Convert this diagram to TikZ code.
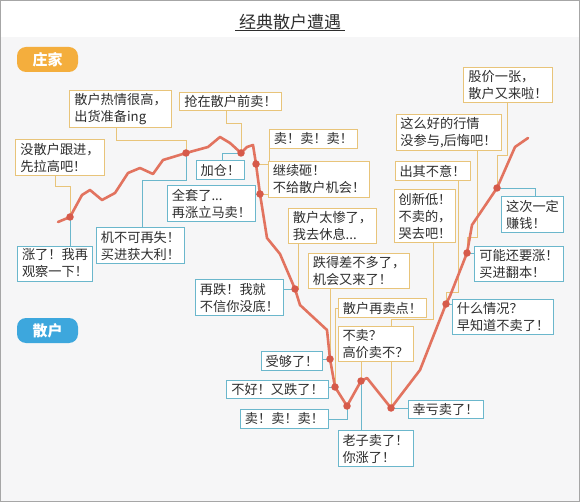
\documentclass[tikz,border=0pt]{standalone}
\usepackage{fontspec}
\setmainfont{Noto Sans CJK SC}
\usetikzlibrary{positioning}
\definecolor{zhuang}{HTML}{F4AE3D}
\definecolor{sanhu}{HTML}{3DA7DD}
\definecolor{zborder}{HTML}{E8C47A}
\definecolor{sborder}{HTML}{6BB7CC}
\definecolor{curvecol}{HTML}{E2735F}
\definecolor{dotcol}{HTML}{D65A4A}
\definecolor{txt}{HTML}{2E2E2E}
\definecolor{bgcol}{HTML}{F6F6F7}
\pgfdeclarelayer{back}
\pgfsetlayers{back,main}
\tikzset{
  msg/.style={draw, fill=white, line width=0.9pt, align=left, inner xsep=4.5pt, inner ysep=3pt, text=txt, font=\fontsize{13.2}{17}\selectfont},
  zbox/.style={msg, draw=zborder},
  sbox/.style={msg, draw=sborder},
  zline/.style={zborder, line width=0.9pt},
  sline/.style={sborder, line width=0.9pt},
  pill/.style={rounded corners=9pt, minimum width=61pt, minimum height=25pt, text=white, font=\fontsize{15}{15}\selectfont\bfseries},
  curve/.style={curvecol, line width=2.6pt, line join=round, line cap=round},
  reddot/.style={circle, fill=dotcol, inner sep=0pt, minimum size=7.5pt},
}

\begin{document}
\begin{tikzpicture}[x=1pt, y=-1pt]
	\useasboundingbox (0,0) rectangle (580,502);

	% points on the price curve
	\foreach \n/\p in {1/{70,217}, 2/{186,153}, 3/{241,153}, 4/{256,164}, 5/{260,194}, 6/{295,289}, 7/{330,359}, 8/{335,387}, 9/{347,406}, 10/{361,381}, 11/{391,408}, 12/{446,304}, 13/{467,253}, 14/{497,188}}
		\coordinate (D\n) at (\p);

	\node (T) at (290,22) {\fontsize{17}{17}\selectfont\color{txt}经典散户遭遇};
	\node[pill, fill=zhuang] (ZJ) at (47.5,59.5) {庄家};
	\node[pill, fill=sanhu] (SH) at (47.5,330.5) {散户};

	% 庄家
	\node[zbox] (Z1) at (60,157.5) {没散户跟进，\\先拉高吧！};
	\node[zbox] (Z2) at (120.5,109) {散户热情很高，\\出货准备ing};
	\node[zbox] (Z3) at (230.5,101.5) {抢在散户前卖！};
	\node[zbox] (Z4) at (313.5,139) {卖！卖！卖！};
	\node[zbox] (Z5) at (319,179.5) {继续砸！\\不给散户机会！};
	\node[zbox] (Z6) at (332.5,226) {散户太惨了，\\我去休息...};
	\node[zbox] (Z7) at (359,271) {跌得差不多了，\\机会又来了！};
	\node[zbox] (Z8) at (382.5,308) {散户再卖点！};
	\node[zbox] (Z9) at (375.5,344) {不卖？\\高价卖不？};
	\node[zbox] (Z10) at (425,216) {创新低！\\不卖的，\\哭去吧！};
	\node[zbox] (Z11) at (432.5,171) {出其不意！};
	\node[zbox] (Z12) at (448.5,132.5) {这么好的行情\\没参与,后悔吧！};
	\node[zbox] (Z13) at (508,85) {股价一张，\\散户又来啦！};

	% 散户
	\node[sbox] (S1) at (55,263.5) {涨了！我再\\观察一下！};
	\node[sbox] (S2) at (140.5,245.5) {机不可再失！\\买进获大利！};
	\node[sbox] (S3) at (220.5,170) {加仓！};
	\node[sbox] (S4) at (211.5,203.5) {全套了...\\再涨立马卖！};
	\node[sbox] (S5) at (239.5,297.5) {再跌！我就\\不信你没底！};
	\node[sbox] (S6) at (292,361) {受够了！};
	\node[sbox] (S7) at (277.5,389.5) {不好！又跌了！};
	\node[sbox] (S8) at (284.5,419) {卖！卖！卖！};
	\node[sbox] (S9) at (375.5,448.5) {老子卖了！\\你涨了！};
	\node[sbox] (S10) at (445.5,409.5) {幸亏卖了！};
	\node[sbox] (S11) at (503,317) {什么情况？\\早知道不卖了！};
	\node[sbox] (S12) at (519,264) {可能还要涨！\\买进翻本！};
	\node[sbox] (S13) at (532.5,214.5) {这次一定\\赚钱！};

	\begin{pgfonlayer}{back}
	\fill[bgcol] (0,37) rectangle (580,502);
	\draw[gray!70, line width=1pt] (0.5,0.5) rectangle (579.5,501.5);
	\draw[txt, line width=0.8pt] ([yshift=3pt]T.south west) -- ([yshift=3pt]T.south east);

	\draw[zline] ([xshift=-5pt]Z1.south) -- ++(0,11) -| (D1);
	\draw[zline] ([xshift=-4.5pt]Z2.south) -- ++(0,12) -| (D2);
	\draw[zline] ([xshift=-4.5pt]Z3.south) -- ++(0,12) -| (D3);
	\draw[zline] (Z4.south west) |- (D4);
	\draw[zline] (D5 -| Z5.west) -- (D5);
	\draw[zline] ([xshift=10pt]Z6.south west) |- (D6);
	\draw[zline] (Z7.south -| D7) -- (D7);
	\draw[zline] (Z8.west) -| (D8);
	\draw[zline] (Z9.south -| D10) -- (D10);
	\draw[zline] ([xshift=-23pt]Z10.south east) -- ++(0,77) -| (D11);
	\draw[zline] ([xshift=-12pt]Z11.south east) -- ++(0,112) -| (D12);
	\draw[zline] ([xshift=-24pt]Z12.south east) -- ++(0,86) -| (D13);
	\draw[zline] ([xshift=-1pt]Z13.south) -- ++(0,52) -| (D14);

	\draw[sline] (S1.north -| D1) -- (D1);
	\draw[sline] ([xshift=1.5pt]S2.north) -- ++(0,-47) -| (D2);
	\draw[sline] ([xshift=1.5pt]S3.north) |- (D3);
	\draw[sline] (D5 -| S4.east) -- (D5);
	\draw[sline] (D6 -| S5.east) -- (D6);
	\draw[sline] (D7 -| S6.east) -- (D7);
	\draw[sline] (D8 -| S7.east) -- (D8);
	\draw[sline] (S8.east) -| (D9);
	\draw[sline] (S9.north -| D10) -- (D10);
	\draw[sline] (D11 -| S10.west) -- (D11);
	\draw[sline] (D12 -| S11.west) -- (D12);
	\draw[sline] (D13 -| S12.west) -- (D13);
	\draw[sline] (D14) -| ([xshift=3pt]S13.north);

	\draw[curve] (58,222) -- (D1) -- (82,195) -- (90,190) -- (102,200) -- (115,193) -- (128,173) -- (140,168) -- (153,174) -- (163,160) -- (173,157) -- (D2) -- (197,150) -- (208,147) -- (220,137) -- (230,143) -- (D3) -- (247,147) -- (253,145) -- (D4) -- (D5) -- (267,238) -- (280,254) -- (D6) -- (300,305) -- (327,330) -- (D7) -- (D8) -- (D9) -- (D10) -- (367,378) -- (D11) -- (420,370) -- (D12) -- (450,296) -- (D13) -- (472,225) -- (D14) -- (515,147) -- (528,138);
	\foreach \n in {1,...,14}
		\node[reddot] at (D\n) {};
	\end{pgfonlayer}
\end{tikzpicture}
\end{document}
